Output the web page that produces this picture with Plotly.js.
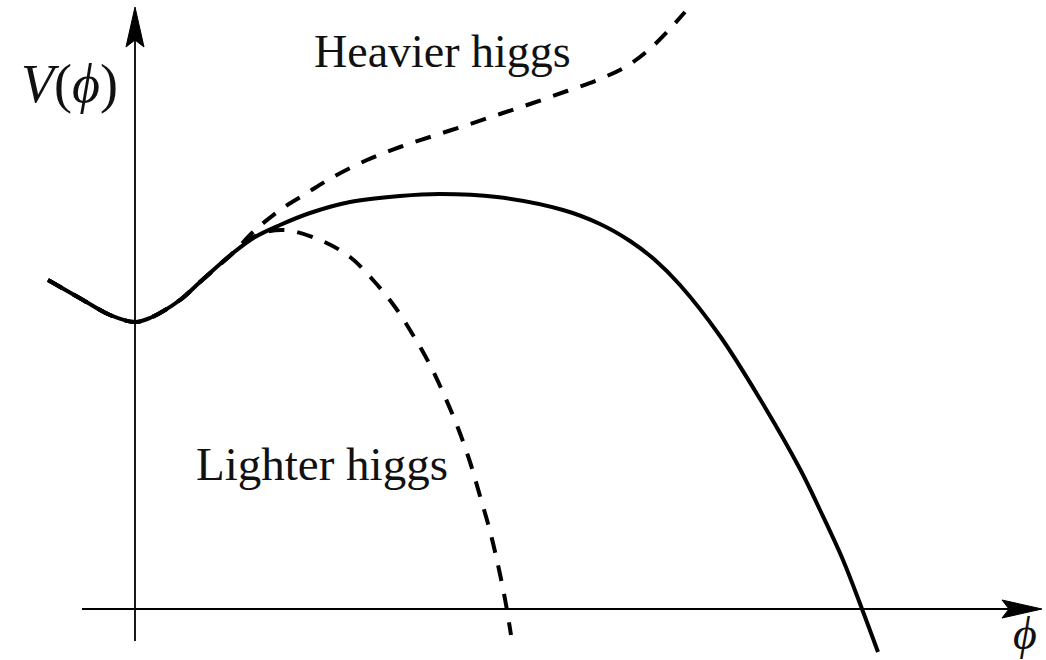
<!DOCTYPE html>
<html>
<head>
<meta charset="utf-8">
<script src="https://cdn.plot.ly/plotly-3.0.1.min.js"></script>
<style>
  html, body { margin: 0; padding: 0; background: #ffffff; }
  #chart { width: 1046px; height: 660px; }
</style>
</head>
<body>
<div id="chart"></div>
<script>
// Field value phi and potential V(phi) for the three sketched potentials
const phiStandard = [-0.87, -0.52, -0.25, 0, 0.15, 0.45, 0.65, 0.98, 1.2, 1.45, 1.75, 2.15, 2.65, 3.05, 3.62, 4.28, 4.65, 4.95, 5.2, 5.45, 5.85, 6.25, 6.65, 6.85, 7.08, 7.27, 7.43];
const vStandard   = [3.29, 3.09, 2.94, 2.87, 2.91, 3.09, 3.27, 3.56, 3.72, 3.84, 3.96, 4.07, 4.13, 4.15, 4.12, 3.99, 3.85, 3.68, 3.49, 3.24, 2.73, 2.10, 1.40, 0.99, 0.49, 0.0, -0.43];

const phiHeavier = [-0.87, -0.52, -0.25, 0, 0.15, 0.45, 0.65, 0.98, 1.18, 1.45, 1.72, 1.98, 2.32, 2.65, 2.98, 3.32, 3.65, 3.98, 4.32, 4.65, 4.92, 5.18, 5.5];
const vHeavier   = [3.29, 3.09, 2.94, 2.87, 2.91, 3.09, 3.27, 3.56, 3.77, 3.99, 4.16, 4.32, 4.49, 4.62, 4.73, 4.84, 4.95, 5.06, 5.18, 5.30, 5.43, 5.63, 5.97];

const phiLighter = [-0.87, -0.52, -0.25, 0, 0.15, 0.45, 0.65, 0.98, 1.2, 1.48, 1.85, 2.15, 2.38, 2.6, 2.78, 2.95, 3.1, 3.23, 3.35, 3.45, 3.55, 3.63, 3.7, 3.76];
const vLighter   = [3.29, 3.09, 2.94, 2.87, 2.91, 3.09, 3.27, 3.56, 3.73, 3.79, 3.69, 3.52, 3.29, 3.02, 2.74, 2.44, 2.12, 1.81, 1.47, 1.13, 0.78, 0.44, 0.10, -0.26];

// Text labels
const labelHeavier = 'Heavier higgs';
const labelLighter = 'Lighter higgs';
const labelV = '<i>V</i>(<i>\u03D5</i>)';
const labelPhi = '<i>\u03D5</i>';

// Extent of the drawn axes (data units)
const xAxisSpan = [-0.53, 9.07];
const yAxisSpan = [-0.32, 6.02];

const ink = '#000000';
const serif = '"Liberation Serif", "DejaVu Serif", serif';

// Stealth-style arrowhead pointing along +x or +y, built from the axis ends
function arrowHead(tipX, tipY, dir) {
  const len = 0.40, half = 0.09, notch = 0.07;
  let p;
  if (dir === 'x') {
    p = [[tipX, tipY], [tipX - len, tipY + half], [tipX - len + notch, tipY], [tipX - len, tipY - half]];
  } else {
    p = [[tipX, tipY], [tipX - half, tipY - len], [tipX, tipY - len + notch], [tipX + half, tipY - len]];
  }
  return 'M ' + p.map(q => q[0] + ',' + q[1]).join(' L ') + ' Z';
}

const dashStyle = '16px,13px';

const traces = [
  {
    x: phiHeavier, y: vHeavier, type: 'scatter', mode: 'lines',
    line: { color: ink, width: 4, dash: dashStyle, shape: 'spline', smoothing: 1 },
    hoverinfo: 'skip', name: labelHeavier
  },
  {
    x: phiLighter, y: vLighter, type: 'scatter', mode: 'lines',
    line: { color: ink, width: 4, dash: dashStyle, shape: 'spline', smoothing: 1 },
    hoverinfo: 'skip', name: labelLighter
  },
  {
    x: phiStandard, y: vStandard, type: 'scatter', mode: 'lines',
    line: { color: ink, width: 4, shape: 'spline', smoothing: 1 },
    hoverinfo: 'skip', name: 'V'
  }
];

const layout = {
  width: 1046,
  height: 660,
  margin: { l: 0, r: 0, t: 0, b: 0 },
  paper_bgcolor: '#ffffff',
  plot_bgcolor: '#ffffff',
  showlegend: false,
  xaxis: { range: [-1.35, 9.11], visible: false, fixedrange: true },
  yaxis: { range: [-0.51, 6.09], visible: false, fixedrange: true },
  shapes: [
    { type: 'line', xref: 'x', yref: 'y', x0: xAxisSpan[0], x1: xAxisSpan[1] - 0.3, y0: 0, y1: 0,
      line: { color: ink, width: 1.8 }, layer: 'below' },
    { type: 'line', xref: 'x', yref: 'y', x0: 0, x1: 0, y0: yAxisSpan[0], y1: yAxisSpan[1] - 0.3,
      line: { color: ink, width: 1.8 }, layer: 'below' },
    { type: 'path', xref: 'x', yref: 'y', path: arrowHead(xAxisSpan[1], 0, 'x'),
      fillcolor: ink, line: { color: ink, width: 1 } },
    { type: 'path', xref: 'x', yref: 'y', path: arrowHead(0, yAxisSpan[1], 'y'),
      fillcolor: ink, line: { color: ink, width: 1 } }
  ],
  annotations: [
    { text: labelHeavier, x: 1.77, y: 5.58, xref: 'x', yref: 'y', xanchor: 'left', yanchor: 'middle',
      showarrow: false, font: { family: serif, size: 46, color: '#111111' } },
    { text: labelLighter, x: 0.59, y: 1.45, xref: 'x', yref: 'y', xanchor: 'left', yanchor: 'middle',
      showarrow: false, font: { family: serif, size: 47, color: '#111111' } },
    { text: labelV, x: -1.16, y: 5.25, xref: 'x', yref: 'y', xanchor: 'left', yanchor: 'middle',
      showarrow: false, font: { family: serif, size: 54, color: '#111111' } },
    { text: labelPhi, x: 8.90, y: -0.24, xref: 'x', yref: 'y', xanchor: 'center', yanchor: 'middle',
      showarrow: false, font: { family: serif, size: 46, color: '#111111' } }
  ]
};

Plotly.newPlot('chart', traces, layout, { staticPlot: true, displayModeBar: false });
</script>
</body>
</html>
